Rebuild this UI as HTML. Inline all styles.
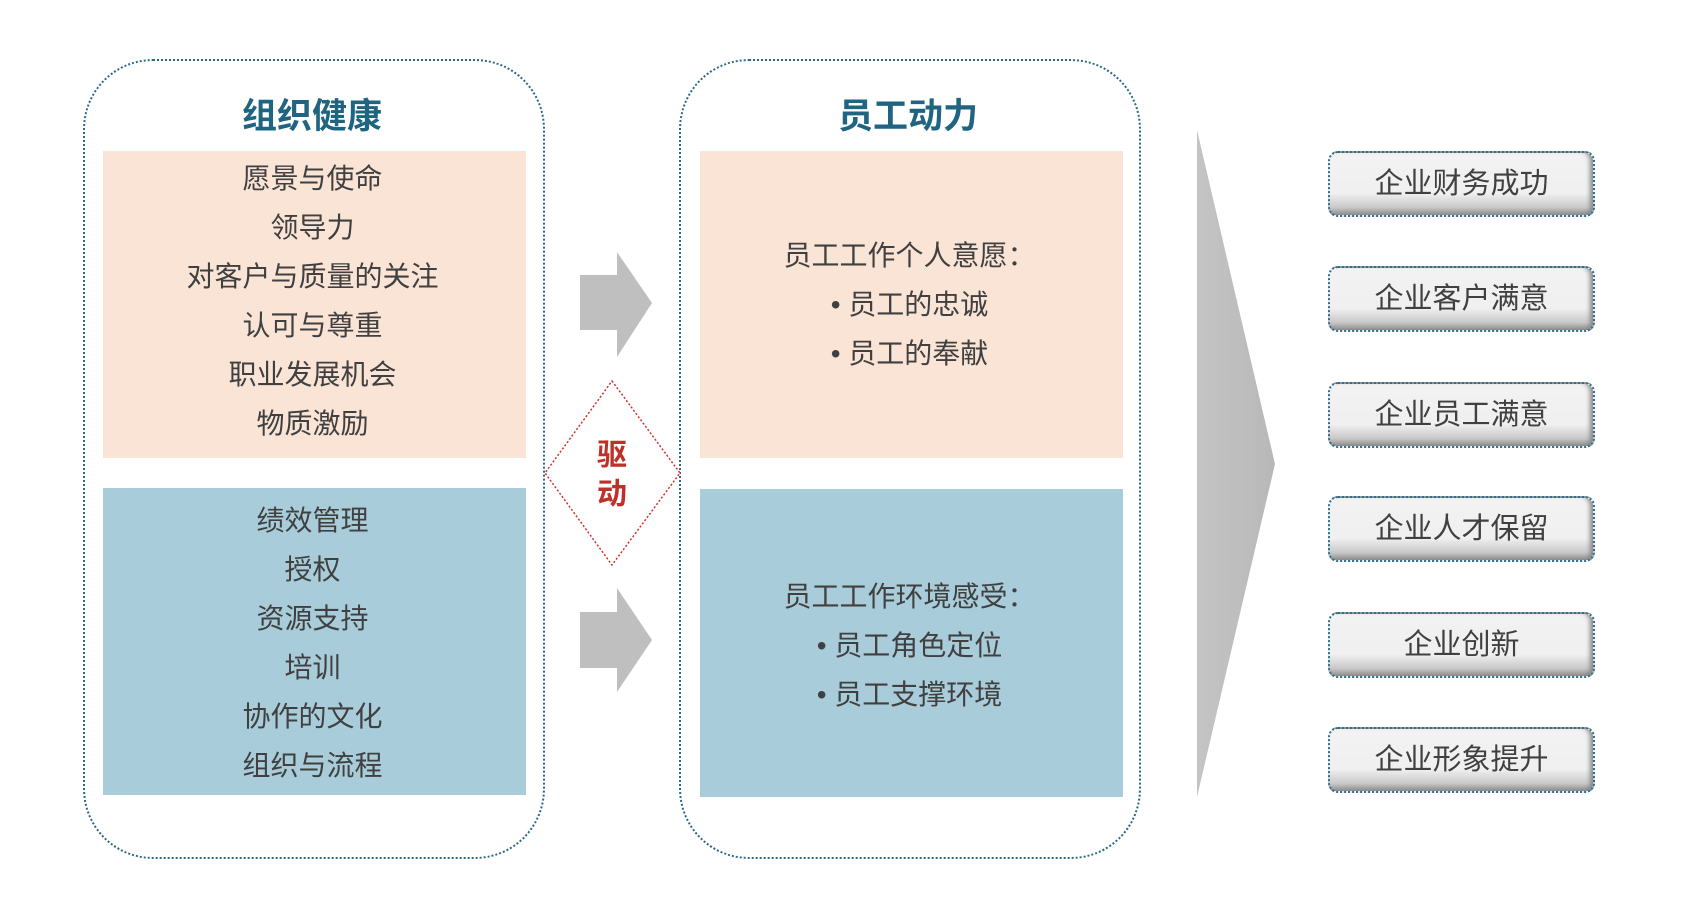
<!DOCTYPE html>
<html><head><meta charset="utf-8"><style>
body{margin:0;width:1684px;height:898px;background:#fff;position:relative;overflow:hidden;font-family:"Liberation Sans","Noto Sans CJK SC",sans-serif;color:#404040}
.a{position:absolute}
.cont{position:absolute;top:59px;width:462px;height:800px;border:2px dotted #2a6a88;border-radius:70px;box-sizing:border-box}
.title{position:absolute;width:462px;text-align:center;top:88px;font-size:35px;font-weight:bold;color:#1f6581}
.box{position:absolute;width:423px}
.peach{background:#fae4d6}.blue{background:#a8ccd9}
.list{position:absolute;width:423px;text-align:center;font-size:28px;line-height:49px}
.btn{position:absolute;left:1328px;width:267px;height:66px;box-sizing:border-box;border:2px dotted #2f6f8f;border-radius:10px;background:linear-gradient(#f2f2f2 0%,#f0f0f0 65%,#c8c8c8 88%,#8a8a8a 100%);box-shadow:inset -6px 0 5px -3px #888;text-align:center;line-height:62px;font-size:29px;color:#404040}
</style></head><body>
<div class="cont" style="left:83px"></div>
<div class="title" style="left:81px">组织健康</div>
<div class="box peach" style="left:103px;top:151px;height:307px"></div>
<div class="list" style="left:101px;top:154px">愿景与使命<br>领导力<br>对客户与质量的关注<br>认可与尊重<br>职业发展机会<br>物质激励</div>
<div class="box blue" style="left:103px;top:488px;height:307px"></div>
<div class="list" style="left:101px;top:496px">绩效管理<br>授权<br>资源支持<br>培训<br>协作的文化<br>组织与流程</div>

<div class="cont" style="left:679px"></div>
<div class="title" style="left:677px">员工动力</div>
<div class="box peach" style="left:700px;top:151px;height:307px"></div>
<div class="list" style="left:698px;top:231px">员工工作个人意愿：<br>• 员工的忠诚<br>• 员工的奉献</div>
<div class="box blue" style="left:700px;top:489px;height:308px"></div>
<div class="list" style="left:698px;top:572px">员工工作环境感受：<br>• 员工角色定位<br>• 员工支撑环境</div>

<svg class="a" style="left:0;top:0" width="1684" height="898">
<polygon points="580,275 617,275 617,252 652,303 617,357 617,330 580,330" fill="#bfbfbf"/>
<polygon points="580,612 617,612 617,588 652,640 617,692 617,668 580,668" fill="#bfbfbf"/>
<polygon points="612,381 680,473 612,565 545,473" fill="#fff" stroke="#d03030" stroke-width="1.5" stroke-dasharray="2,2"/>
<text x="612" y="465" text-anchor="middle" font-size="30" font-weight="bold" fill="#c0302a" font-family="Liberation Sans,Noto Sans CJK SC,sans-serif">驱</text>
<text x="612" y="504" text-anchor="middle" font-size="30" font-weight="bold" fill="#c0302a" font-family="Liberation Sans,Noto Sans CJK SC,sans-serif">动</text>
<defs><linearGradient id="g" x1="0" x2="1"><stop offset="0" stop-color="#c4c4c4"/><stop offset="1" stop-color="#b8b8b8"/></linearGradient></defs>
<polygon points="1197,130 1275,464 1197,797" fill="url(#g)"/>
</svg>

<div class="btn" style="top:151px">企业财务成功</div>
<div class="btn" style="top:266px">企业客户满意</div>
<div class="btn" style="top:382px">企业员工满意</div>
<div class="btn" style="top:496px">企业人才保留</div>
<div class="btn" style="top:612px">企业创新</div>
<div class="btn" style="top:727px">企业形象提升</div>
</body></html>
